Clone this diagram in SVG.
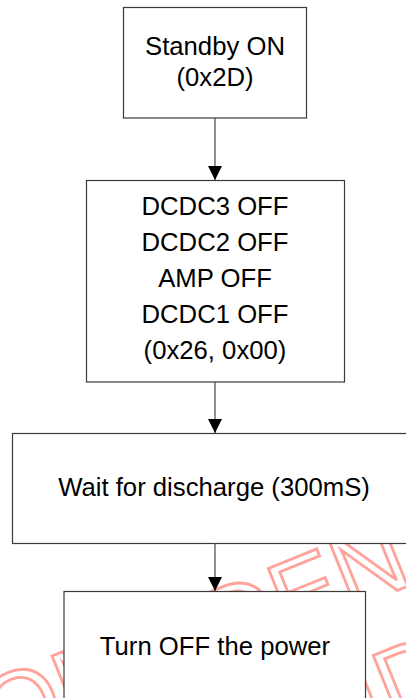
<svg xmlns="http://www.w3.org/2000/svg" width="406" height="698" viewBox="0 0 406 698">
<style>
.box{fill:#ffffff;stroke:#3a3a3a;stroke-width:1.2}
.lbl{font-family:"Liberation Sans",Arial,sans-serif;font-size:25.7px;fill:#000;text-anchor:middle}
.wm{font-family:"Liberation Sans",Arial,sans-serif;font-size:100px;fill:none;stroke:#ffa39b;stroke-width:2.8}
.conn{stroke:#555;stroke-width:1.3;fill:none}
</style>
<defs>
<marker id="ah" viewBox="0 0 14 14" refX="14" refY="7" markerWidth="14" markerHeight="14" markerUnits="userSpaceOnUse" orient="auto">
<path d="M0,0 L14,7 L0,14 z" fill="#000"/>
</marker>
</defs>
<rect width="406" height="698" fill="#fff"/>
<g id="watermark">
<text class="wm" transform="translate(-68.9,778.9) rotate(-22)" x="0" y="0">CONFIDENTIAL</text>
<text class="wm" transform="translate(103,838.9) rotate(-22)" x="0" y="0">CONFIDENTIAL</text>
</g>
<g id="n1">
<rect class="box" x="123.5" y="7.5" width="183" height="110.5"/>
<text class="lbl" x="215" y="55">Standby ON</text>
<text class="lbl" x="215" y="86">(0x2D)</text>
</g>
<g id="n2">
<rect class="box" x="86.5" y="180.5" width="258" height="201.5"/>
<text class="lbl" x="215" y="214.5">DCDC3 OFF</text>
<text class="lbl" x="215" y="250.7">DCDC2 OFF</text>
<text class="lbl" x="215" y="286.9">AMP OFF</text>
<text class="lbl" x="215" y="323.1">DCDC1 OFF</text>
<text class="lbl" x="215" y="359.3">(0x26, 0x00)</text>
</g>
<g id="n3">
<rect class="box" x="12.5" y="433.5" width="406" height="110"/>
<text class="lbl" x="214" y="496">Wait for discharge (300mS)</text>
</g>
<g id="n4">
<rect class="box" x="64" y="591.5" width="301.5" height="140"/>
<text class="lbl" x="215" y="655">Turn OFF the power</text>
</g>
<g id="connectors">
<line class="conn" x1="215" y1="118" x2="215" y2="180" marker-end="url(#ah)"/>
<line class="conn" x1="215" y1="382" x2="215" y2="433" marker-end="url(#ah)"/>
<line class="conn" x1="215" y1="543" x2="215" y2="591" marker-end="url(#ah)"/>
</g>
</svg>
